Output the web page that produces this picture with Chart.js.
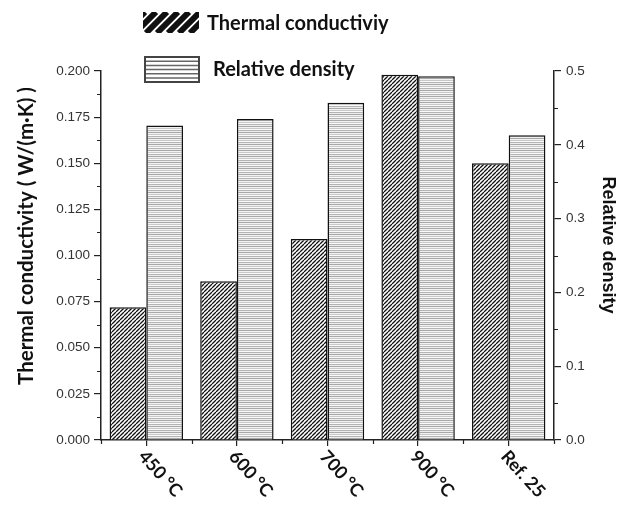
<!DOCTYPE html>
<html>
<head>
<meta charset="utf-8">
<script src="https://cdn.jsdelivr.net/npm/chart.js@4/dist/chart.umd.min.js"></script>
<style>
  html, body { margin: 0; padding: 0; background: #fff; }
  #wrap { width: 627px; height: 512px; }
</style>
</head>
<body>
<div id="wrap"><canvas id="chart" width="627" height="512"></canvas></div>
<script>
// Data
const categories = ['450 °C', '600 °C', '700 °C', '900 °C', 'Ref. 25'];
const thermalConductivity = [0.072, 0.086, 0.109, 0.198, 0.150];
const relativeDensity = [0.426, 0.435, 0.457, 0.493, 0.413];
const legendLabels = ['Thermal conductiviy', 'Relative density'];
const axisTitles = ['Thermal conductivity ( W/(m·K) )', 'Relative density'];

const TITLE_FONT = 'Lato';
const TICK_FONT = '"Liberation Sans", Arial, sans-serif';

// diagonal hatch for thermal conductivity bars
function diagPattern(size, lw) {
  const c = document.createElement('canvas');
  c.width = size; c.height = size;
  const g = c.getContext('2d');
  g.fillStyle = '#fff';
  g.fillRect(0, 0, size, size);
  g.strokeStyle = '#111';
  g.lineWidth = lw;
  g.beginPath();
  for (let k = -1; k <= 1; k++) {
    g.moveTo(k * size, size);
    g.lineTo(k * size + size, 0);
  }
  g.stroke();
  return g.createPattern(c, 'repeat');
}

// horizontal lines for relative density bars
function horizPattern() {
  const c = document.createElement('canvas');
  c.width = 4; c.height = 6;
  const g = c.getContext('2d');
  const rows = ['#a8a8a8', '#f2f2f2', '#c8c8c8', '#fafafa', '#b4b4b4', '#eeeeee'];
  rows.forEach((col, i) => { g.fillStyle = col; g.fillRect(0, i, 4, 1); });
  return g.createPattern(c, 'repeat');
}

const tcPattern = diagPattern(4, 1.3);
const rdPattern = horizPattern();

// minor ticks, rotated category labels, legend and axis titles
const extrasPlugin = {
  id: 'extras',
  afterDraw(chart) {
    const ctx = chart.ctx;
    const area = chart.chartArea;
    const x = chart.scales.x, y = chart.scales.y, y1 = chart.scales.y1;
    ctx.save();
    ctx.strokeStyle = '#222';
    ctx.lineWidth = 1.2;
    ctx.beginPath();
    // left minor ticks
    for (let v = 0.0125; v < 0.2; v += 0.025) {
      const py = Math.round(y.getPixelForValue(v)) + 0.5;
      ctx.moveTo(area.left - 4, py); ctx.lineTo(area.left, py);
    }
    // right minor ticks
    for (let v = 0.05; v < 0.5; v += 0.1) {
      const py = Math.round(y1.getPixelForValue(v)) + 0.5;
      ctx.moveTo(area.right, py); ctx.lineTo(area.right + 4, py);
    }
    // bottom minor ticks at category boundaries
    for (let i = 0; i <= categories.length; i++) {
      const px = Math.round(x.getPixelForValue(i - 0.5)) + 0.5;
      ctx.moveTo(px, area.bottom); ctx.lineTo(px, area.bottom + 4);
    }
    ctx.stroke();

    // rotated category labels
    ctx.fillStyle = '#111';
    ctx.font = 'bold 18px ' + TITLE_FONT;
    ctx.textAlign = 'left';
    ctx.textBaseline = 'top';
    categories.forEach((lab, i) => {
      const px = x.getPixelForValue(i);
      ctx.save();
      ctx.translate(px - 3, area.bottom + 12);
      ctx.rotate(48 * Math.PI / 180);
      ctx.fillText(lab, 0, -7);
      ctx.restore();
    });

    // axis titles
    ctx.textAlign = 'center';
    ctx.textBaseline = 'middle';
    ctx.save();
    ctx.font = 'bold 20.5px ' + TITLE_FONT;
    ctx.translate(26, 236);
    ctx.rotate(-Math.PI / 2);
    ctx.fillText(axisTitles[0], 0, 0);
    ctx.restore();

    ctx.save();
    ctx.font = 'bold 18px ' + TICK_FONT;
    ctx.translate(608, 245);
    ctx.rotate(Math.PI / 2);
    ctx.fillText(axisTitles[1], 0, 0);
    ctx.restore();

    // legend
    const sw1 = { l: 143, t: 12, w: 56, h: 21 };
    ctx.save();
    ctx.beginPath();
    ctx.rect(sw1.l, sw1.t, sw1.w, sw1.h);
    ctx.clip();
    ctx.fillStyle = '#fff';
    ctx.fillRect(sw1.l, sw1.t, sw1.w, sw1.h);
    ctx.strokeStyle = '#111';
    ctx.lineWidth = 6;
    ctx.beginPath();
    for (let k = -30; k < sw1.w + 30; k += 11) {
      ctx.moveTo(sw1.l + k, sw1.t + sw1.h);
      ctx.lineTo(sw1.l + k + sw1.h, sw1.t);
    }
    ctx.stroke();
    ctx.restore();

    const sw2 = { l: 145, t: 57, w: 54, h: 25 };
    ctx.fillStyle = '#fff';
    ctx.fillRect(sw2.l, sw2.t, sw2.w, sw2.h);
    ctx.strokeStyle = '#666';
    ctx.lineWidth = 1.5;
    ctx.beginPath();
    for (let k = 0; k <= sw2.h; k += 4.2) {
      ctx.moveTo(sw2.l, sw2.t + k); ctx.lineTo(sw2.l + sw2.w, sw2.t + k);
    }
    ctx.stroke();
    ctx.strokeStyle = '#444';
    ctx.lineWidth = 2;
    ctx.strokeRect(sw2.l, sw2.t, sw2.w, sw2.h);

    ctx.fillStyle = '#111';
    ctx.font = 'bold 20px ' + TITLE_FONT;
    ctx.textAlign = 'left';
    ctx.textBaseline = 'middle';
    ctx.fillText(legendLabels[0], 207, 24);
    ctx.fillText(legendLabels[1], 213, 70);
    ctx.restore();
  }
};

new Chart(document.getElementById('chart'), {
  type: 'bar',
  data: {
    labels: categories,
    datasets: [{
      label: legendLabels[0],
      data: thermalConductivity,
      yAxisID: 'y',
      backgroundColor: tcPattern,
      borderColor: '#111',
      borderWidth: 1.5,
      categoryPercentage: 0.81,
      barPercentage: 1.0
    }, {
      label: legendLabels[1],
      data: relativeDensity,
      yAxisID: 'y1',
      backgroundColor: rdPattern,
      borderColor: '#111',
      borderWidth: 1.5,
      categoryPercentage: 0.81,
      barPercentage: 1.0
    }]
  },
  options: {
    responsive: false,
    animation: false,
    devicePixelRatio: 1,
    layout: { padding: { top: 71, left: 0, right: 0, bottom: 0 } },
    plugins: {
      legend: { display: false },
      tooltip: { enabled: false }
    },
    scales: {
      x: {
        offset: true,
        ticks: { display: false },
        grid: { display: true, drawOnChartArea: false, offset: false, tickLength: 6, color: '#222', lineWidth: 1.2 },
        border: { color: '#222', width: 1.5 },
        afterFit(scale) { scale.height = 72; }
      },
      y: {
        position: 'left',
        min: 0,
        max: 0.2,
        ticks: {
          stepSize: 0.025,
          padding: 4,
          color: '#333',
          font: { family: TICK_FONT, size: 13.5 },
          callback: v => v.toFixed(3)
        },
        grid: { drawOnChartArea: false, tickLength: 7, color: '#222', lineWidth: 1.2 },
        border: { color: '#222', width: 1.5 },
        afterFit(scale) { scale.width = 101; }
      },
      y1: {
        position: 'right',
        min: 0,
        max: 0.5,
        ticks: {
          stepSize: 0.1,
          padding: 5,
          color: '#333',
          font: { family: TICK_FONT, size: 13.5 },
          callback: v => v.toFixed(1)
        },
        grid: { drawOnChartArea: false, tickLength: 7, color: '#222', lineWidth: 1.2 },
        border: { color: '#222', width: 1.5 },
        afterFit(scale) { scale.width = 73; }
      }
    }
  },
  plugins: [extrasPlugin]
});
</script>
</body>
</html>
